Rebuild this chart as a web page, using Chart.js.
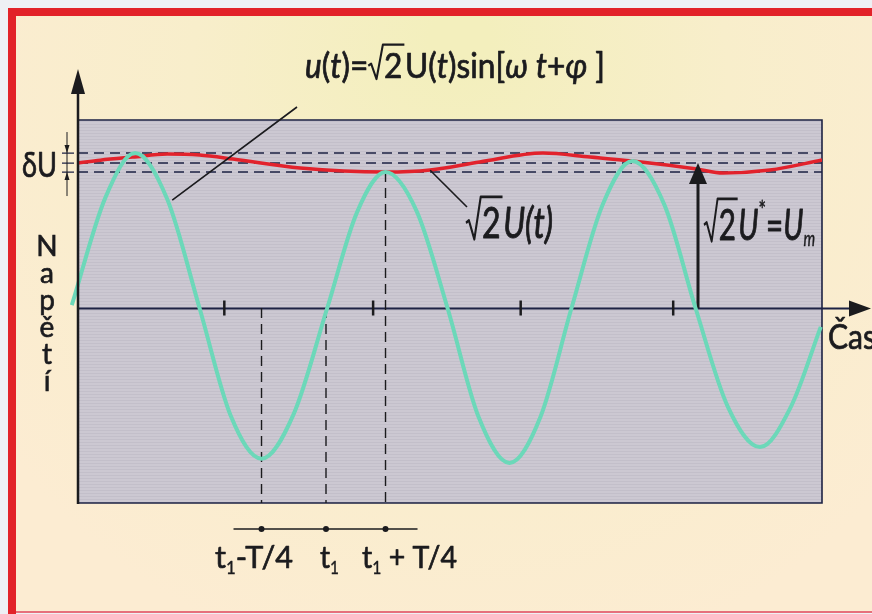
<!DOCTYPE html>
<html>
<head>
<meta charset="utf-8">
<script src="https://cdn.jsdelivr.net/npm/chart.js@4.4.1/dist/chart.umd.min.js"></script>
<style>
html, body { margin: 0; padding: 0; background: #eef0f4; }
#wrap { width: 872px; height: 614px; }
</style>
</head>
<body>
<div id="wrap"><canvas id="myChart"></canvas></div>
<script>
// time in ms, voltage relative to U_m
var sineT = [-0.5, 2.2, 4.6, 7.2, 9.8, 12.3, 14.8, 17.4, 20.1, 22.5, 24.8, 27.3, 29.8,
	32.3, 34.8, 37.3, 39.8, 42.3, 44.7, 47.3, 49.8, 52.4, 55.0, 57.5, 59.9];
var sineU = [0.02, 0.76, 1.069, 0.75, 0, -0.74, -1.04, -0.73, 0, 0.66, 0.938, 0.67, 0,
	-0.75, -1.069, -0.75, 0, 0.71, 1.014, 0.71, 0, -0.68, -0.959, -0.68, -0.13];

var envT = [0, 1.8, 4.4, 7.2, 9.8, 12.5, 17.9, 24.8, 28.4, 32.4, 37.5, 41.3, 44.7, 49.9, 52.0, 55.8, 60];
var envU = [1.0, 1.02, 1.041, 1.062, 1.055, 1.028, 0.966, 0.938, 0.952, 1.007, 1.069, 1.041, 1.014, 0.959, 0.931, 0.952, 1.021];

var levels = [1.069, 1.0, 0.938];     // max, mean, min of the envelope
var tickT = [11.8, 23.8, 35.7, 48.0];
var markT = [14.8, 20.0, 24.8];       // t1 - T/4, t1, t1 + T/4
var markTop = [0, 0, 0.938];
var arrowT = 50;
var arrowU = 1.0;

var tMin = 0, tMax = 60, uMin = -1.345, uMax = 1.297;

var ink = '#1b1b1e';
var navy = '#1d2244';

function pts(xs, ys) {
	var out = [];
	xs.forEach(function(x, i) { out.push({x: x, y: ys[i]}); });
	return out;
}

// text runs with italics, sub/superscripts and a square-root sign
function fontOf(r, s) {
	var sz = s * (r.sc || 1);
	return (r.it ? 'italic ' : '') + sz + 'px Lato';
}
function runsWidth(ctx, runs, s) {
	var w = 0;
	runs.forEach(function(r) {
		ctx.font = fontOf(r, s);
		if (r.sqrt) w += 0.5 * s + ctx.measureText(r.sqrt).width + 0.08 * s;
		else w += ctx.measureText(r.t).width;
	});
	return w;
}
function text(ctx, t, x, y, s) {
	ctx.lineWidth = s * 0.022;
	ctx.strokeText(t, x, y);
	ctx.fillText(t, x, y);
}
function drawRuns(ctx, runs, x, y, s, targetW) {
	var w = runsWidth(ctx, runs, s);
	var k = targetW ? targetW / w : 1;
	ctx.save();
	ctx.translate(x, y);
	ctx.scale(k, 1);
	ctx.fillStyle = ink;
	ctx.strokeStyle = ink;
	ctx.lineJoin = 'round';
	ctx.textBaseline = 'alphabetic';
	var cx = 0;
	runs.forEach(function(r) {
		ctx.font = fontOf(r, s);
		if (r.sqrt) {
			var tw = ctx.measureText(r.sqrt).width;
			ctx.lineWidth = 0.065 * s;
			ctx.beginPath();
			ctx.moveTo(cx, -0.36 * s);
			ctx.lineTo(cx + 0.09 * s, -0.42 * s);
			ctx.lineTo(cx + 0.26 * s, 0.03 * s);
			ctx.lineTo(cx + 0.46 * s, -0.98 * s);
			ctx.lineTo(cx + 0.5 * s + tw + 0.06 * s, -0.98 * s);
			ctx.stroke();
			text(ctx, r.sqrt, cx + 0.5 * s, 0, s);
			cx += 0.5 * s + tw + 0.08 * s;
		} else {
			text(ctx, r.t, cx, (r.dy || 0) * s, s * (r.sc || 1));
			cx += ctx.measureText(r.t).width;
		}
	});
	ctx.restore();
}

var decor = {
	id: 'decor',
	beforeDraw: function(chart) {
		var ctx = chart.ctx, a = chart.chartArea;
		var W = chart.width, H = chart.height;
		ctx.save();
		ctx.fillStyle = '#eef0f4';
		ctx.fillRect(0, 0, W, H);
		var g = ctx.createRadialGradient(460, 40, 30, 460, 120, 560);
		g.addColorStop(0, '#f3efbd');
		g.addColorStop(0.45, '#f8eecb');
		g.addColorStop(1, '#fcecd2');
		ctx.fillStyle = g;
		ctx.fillRect(16, 16, W - 16, H - 19);
		// red frame
		ctx.fillStyle = '#e22228';
		ctx.fillRect(8, 8, W - 8, 8);
		ctx.fillRect(8, 8, 8, H - 8);
		ctx.fillStyle = '#e6707c';
		ctx.fillRect(16, H - 3, W - 16, 2);
		// plot area with fine horizontal stripes
		ctx.fillStyle = '#ccc8d2';
		ctx.fillRect(a.left, a.top, a.right - a.left, a.bottom - a.top);
		ctx.fillStyle = 'rgba(110,105,120,0.09)';
		for (var y = a.top + 1; y < a.bottom; y += 3) ctx.fillRect(a.left, y, a.right - a.left, 1);
		ctx.restore();
	},
	beforeDatasetsDraw: function(chart) {
		var ctx = chart.ctx, a = chart.chartArea;
		var ys = chart.scales.y;
		var y0 = Math.round(ys.getPixelForValue(0)) + 0.5;
		ctx.save();
		ctx.strokeStyle = navy;
		ctx.lineWidth = 1.6;
		ctx.beginPath();
		ctx.moveTo(a.left, a.top);
		ctx.lineTo(a.right, a.top);
		ctx.lineTo(a.right, a.bottom);
		ctx.lineTo(a.left, a.bottom);
		ctx.stroke();
		// time axis
		ctx.lineWidth = 2;
		ctx.beginPath();
		ctx.moveTo(a.left, y0);
		ctx.lineTo(854, y0);
		ctx.stroke();
		ctx.restore();
	},
	afterDatasetsDraw: function(chart) {
		var ctx = chart.ctx, a = chart.chartArea;
		var xs = chart.scales.x, ys = chart.scales.y;
		var y0 = Math.round(ys.getPixelForValue(0)) + 0.5;
		ctx.save();
		ctx.fillStyle = ink;
		ctx.strokeStyle = ink;
		// arrow heads of both axes
		ctx.beginPath();
		ctx.moveTo(871, y0); ctx.lineTo(849, y0 - 8); ctx.lineTo(849, y0 + 8); ctx.closePath();
		ctx.fill();
		ctx.lineWidth = 2.5;
		ctx.beginPath();
		ctx.moveTo(a.left, a.bottom + 1);
		ctx.lineTo(a.left, 90);
		ctx.stroke();
		ctx.beginPath();
		ctx.moveTo(a.left, 69); ctx.lineTo(a.left - 7, 94); ctx.lineTo(a.left + 7, 94); ctx.closePath();
		ctx.fill();
		// head of the U_m arrow
		var ax = xs.getPixelForValue(arrowT), ay = ys.getPixelForValue(arrowU);
		ctx.beginPath();
		ctx.moveTo(ax, ay); ctx.lineTo(ax - 9, ay + 21); ctx.lineTo(ax + 9, ay + 21); ctx.closePath();
		ctx.fill();

		// deltaU dimension marks
		var ly = levels.map(function(v) { return ys.getPixelForValue(v); });
		ctx.strokeStyle = navy;
		ctx.lineWidth = 1.3;
		ctx.beginPath();
		ly.forEach(function(y) { ctx.moveTo(62, y); ctx.lineTo(74, y); });
		ctx.stroke();
		ctx.strokeStyle = ink;
		ctx.lineWidth = 1;
		ctx.beginPath();
		ctx.moveTo(67, ly[0] - 21); ctx.lineTo(67, ly[2] + 24);
		ctx.stroke();
		ctx.beginPath();
		ctx.moveTo(67, ly[0]); ctx.lineTo(64.5, ly[0] - 8); ctx.lineTo(69.5, ly[0] - 8); ctx.closePath();
		ctx.moveTo(67, ly[2]); ctx.lineTo(64.5, ly[2] + 8); ctx.lineTo(69.5, ly[2] + 8); ctx.closePath();
		ctx.fill();

		// leader lines
		ctx.lineWidth = 1.6;
		ctx.beginPath();
		ctx.moveTo(297, 107);
		ctx.lineTo(xs.getPixelForValue(7.6), ys.getPixelForValue(0.745));
		ctx.moveTo(xs.getPixelForValue(28.4), ys.getPixelForValue(0.95));
		ctx.lineTo(467, 207);
		ctx.stroke();

		// time marks below the plot
		var mx = markT.map(function(t) { return xs.getPixelForValue(t); });
		ctx.lineWidth = 1.6;
		ctx.beginPath();
		ctx.moveTo(mx[0] - 28, 529); ctx.lineTo(mx[2] + 32, 529);
		ctx.stroke();
		mx.forEach(function(x) {
			ctx.beginPath(); ctx.arc(x, 529, 3, 0, Math.PI * 2); ctx.fill();
		});

		// texts
		var s1 = [{t: 't'}, {t: '1', sc: 0.55, dy: 0.18}];
		drawRuns(ctx, s1.concat([{t: '-T/4'}]), 215, 568, 31, 78);
		drawRuns(ctx, s1, mx[1] - 6, 568, 31, 19);
		drawRuns(ctx, s1.concat([{t: ' + T/4'}]), 362, 568, 31, 95);

		drawRuns(ctx, [{t: 'u', it: 1}, {t: '('}, {t: 't', it: 1}, {t: ')='}, {sqrt: '2'},
			{t: 'U('}, {t: 't', it: 1}, {t: ')sin['}, {t: 'ω', it: 1}, {t: ' '}, {t: 't', it: 1},
			{t: '+'}, {t: 'φ', it: 1}, {t: ' ]'}], 305, 78, 34, 300);

		drawRuns(ctx, [{sqrt: '2'}, {t: 'U(', it: 1}, {t: 't', it: 1}, {t: ')', it: 1}], 466, 238, 42, 87);
		drawRuns(ctx, [{sqrt: '2'}, {t: 'U', it: 1}, {t: '*', sc: 0.6, dy: -0.5}, {t: '='}, {t: 'U', it: 1},
			{t: 'm', it: 1, sc: 0.5, dy: 0.15}], 704, 240, 42, 111);

		drawRuns(ctx, [{t: 'δU'}], 22, 177, 34, 35);
		drawRuns(ctx, [{t: 'Čas'}], 828, 349, 34, 48);

		ctx.textAlign = 'center';
		ctx.font = '28px Lato';
		ctx.fillStyle = ink;
		['N', 'a', 'p', 'ě', 't', 'í'].forEach(function(c, i) {
			text(ctx, c, 47, 256 + 27 * i, 28);
		});
		ctx.restore();
	}
};

var datasets = [
	{ data: pts(sineT, sineU), borderColor: '#6cd8b9', borderWidth: 4, cubicInterpolationMode: 'monotone', clip: false },
	{ data: pts(envT, envU), borderColor: '#e2222c', borderWidth: 3.5, cubicInterpolationMode: 'monotone' },
	{ data: [{x: arrowT, y: 0}, {x: arrowT, y: arrowU - 0.1}], borderColor: ink, borderWidth: 3 },
	{ data: tickT.map(function(t) { return {x: t, y: 0}; }), showLine: false, pointRadius: 7.5,
		pointStyle: 'line', rotation: 90, pointBorderColor: ink, pointBorderWidth: 2.5 }
];
levels.forEach(function(v) {
	datasets.push({ data: [{x: tMin, y: v}, {x: tMax, y: v}], borderColor: navy, borderWidth: 1.4, borderDash: [10, 6] });
});
markT.forEach(function(t, i) {
	datasets.push({ data: [{x: t, y: markTop[i]}, {x: t, y: uMin}], borderColor: ink, borderWidth: 1.4, borderDash: [10, 6] });
});

new Chart(document.getElementById('myChart').getContext('2d'), {
	type: 'line',
	data: { datasets: datasets },
	options: {
		responsive: true,
		maintainAspectRatio: false,
		devicePixelRatio: 1,
		animation: false,
		layout: { padding: { left: 78, top: 120, right: 50, bottom: 111 } },
		elements: { point: { radius: 0 }, line: { tension: 0 } },
		plugins: { legend: { display: false }, tooltip: { enabled: false } },
		scales: {
			x: { type: 'linear', min: tMin, max: tMax, display: false },
			y: { type: 'linear', min: uMin, max: uMax, display: false }
		}
	},
	plugins: [decor]
});
</script>
</body>
</html>
